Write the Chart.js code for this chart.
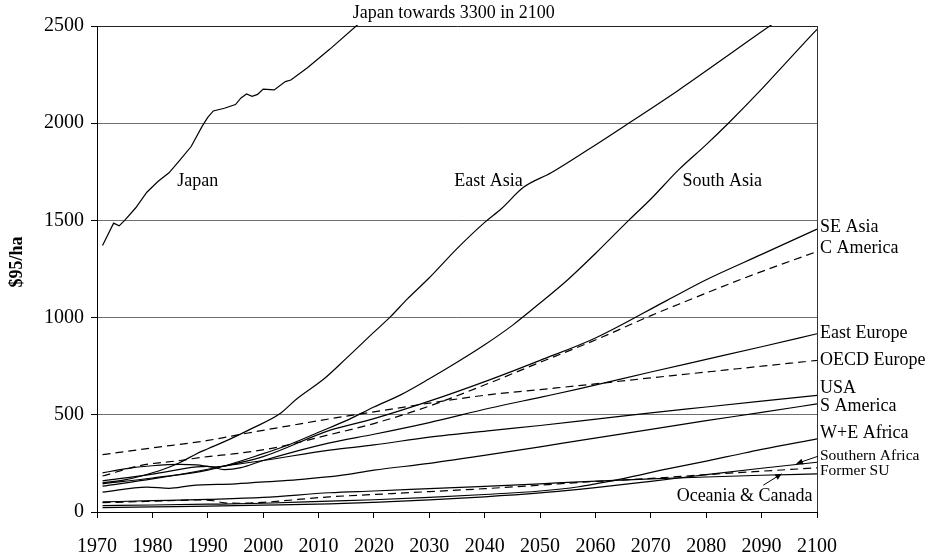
<!DOCTYPE html>
<html>
<head>
<meta charset="utf-8">
<script src="https://cdn.jsdelivr.net/npm/chart.js@4/dist/chart.umd.min.js"></script>
<style>
  html, body { margin: 0; padding: 0; background: #fff; }
  #wrap { width: 933px; height: 557px; }
</style>
</head>
<body>
<div id="wrap"><canvas id="c" width="933" height="557"></canvas></div>
<script>
// Agricultural land value per hectare ($95/ha), 1970-2100, by region.

const japanYears = [1971, 1973, 1974, 1975, 1977, 1979, 1981, 1983, 1985, 1987, 1989, 1990, 1991, 1993, 1995, 1996, 1997, 1998, 1999, 2000, 2002, 2004, 2005, 2008, 2012, 2017, 2030, 2050, 2075, 2100];
const japanValues = [1371, 1486, 1472, 1500, 1565, 1645, 1700, 1745, 1811, 1880, 1985, 2030, 2063, 2077, 2096, 2130, 2150, 2138, 2148, 2175, 2171, 2214, 2222, 2285, 2380, 2505, 2760, 3020, 3200, 3300];

const eastAsiaYears = [1971, 1975, 1978, 1982, 1985, 1988, 1990, 1994, 1998, 2003, 2006, 2011, 2015, 2020, 2023, 2026, 2030, 2035, 2040, 2043, 2047, 2052, 2059, 2066, 2075, 2085, 2092, 2100];
const eastAsiaValues = [150, 165, 185, 220, 255, 300, 325, 375, 430, 505, 580, 685, 790, 925, 1005, 1095, 1205, 1355, 1490, 1560, 1670, 1745, 1870, 2000, 2170, 2370, 2510, 2650];

const southAsiaYears = [1971, 1980, 1990, 2000, 2005, 2010, 2015, 2020, 2025, 2030, 2035, 2040, 2045, 2050, 2055, 2060, 2066, 2070, 2075, 2080, 2084, 2090, 2095, 2100];
const southAsiaValues = [145, 175, 215, 300, 350, 410, 470, 540, 605, 685, 770, 860, 960, 1075, 1195, 1330, 1500, 1610, 1760, 1890, 2000, 2175, 2330, 2483];

const seAsiaYears = [1971, 1980, 1990, 2000, 2012, 2020, 2030, 2041, 2050, 2060, 2073, 2080, 2090, 2100];
const seAsiaValues = [133, 170, 220, 285, 420, 480, 570, 681, 780, 895, 1090, 1195, 1325, 1455];

const cAmericaYears = [1971, 1978, 1985, 1990, 1995, 2002, 2012, 2020, 2030, 2041, 2050, 2060, 2070, 2076, 2087, 2100];
const cAmericaValues = [185, 240, 265, 285, 300, 330, 398, 455, 545, 665, 770, 885, 1010, 1080, 1205, 1340];

const eastEuropeYears = [1971, 1980, 1988, 1990, 1993, 1996, 2000, 2012, 2020, 2030, 2041, 2050, 2057, 2070, 2080, 2090, 2100];
const eastEuropeValues = [160, 195, 232, 235, 218, 228, 265, 356, 400, 460, 535, 590, 633, 720, 785, 850, 917];

const oecdEuropeYears = [1971, 1980, 1990, 1997, 2005, 2013, 2020, 2030, 2041, 2050, 2057, 2070, 2080, 2090, 2100];
const oecdEuropeValues = [295, 330, 368, 405, 445, 484, 515, 560, 604, 630, 650, 690, 720, 750, 780];

const usaYears = [1971, 1975, 1980, 1985, 1988, 1991, 1995, 2000, 2012, 2020, 2030, 2041, 2050, 2057, 2070, 2080, 2090, 2100];
const usaValues = [201, 222, 238, 245, 242, 232, 245, 265, 318, 345, 385, 419, 445, 467, 510, 540, 570, 600];

const sAmericaYears = [1971, 1979, 1983, 1987, 1995, 2002, 2007, 2014, 2020, 2030, 2039, 2050, 2057, 2070, 2080, 2090, 2100];
const sAmericaValues = [102, 128, 122, 136, 145, 158, 168, 188, 215, 250, 287, 335, 367, 425, 470, 512, 556];

const weAfricaYears = [1971, 1980, 1990, 2000, 2012, 2020, 2030, 2040, 2050, 2057, 2060, 2065, 2073, 2080, 2085, 2090, 2100];
const weAfricaValues = [33, 36, 40, 45, 56, 63, 75, 90, 108, 130, 145, 172, 222, 262, 292, 322, 376];

const southernAfricaYears = [1971, 1980, 1990, 2000, 2012, 2020, 2030, 2040, 2050, 2057, 2060, 2070, 2080, 2090, 2100];
const southernAfricaValues = [22, 26, 30, 35, 42, 50, 62, 78, 98, 116, 125, 158, 192, 225, 256];

const formerSUYears = [1971, 1980, 1989, 1991, 1993, 1996, 2000, 2012, 2020, 2030, 2040, 2050, 2057, 2069, 2080, 2090, 2100];
const formerSUValues = [48, 55, 62, 58, 47, 45, 50, 78, 90, 105, 120, 138, 152, 171, 192, 210, 227];

const oceaniaYears = [1971, 1980, 1990, 2000, 2012, 2020, 2030, 2040, 2050, 2057, 2070, 2080, 2090, 2100];
const oceaniaValues = [52, 58, 65, 75, 99, 108, 120, 132, 145, 155, 170, 180, 189, 196];

const xTickYears = [1970, 1980, 1990, 2000, 2010, 2020, 2030, 2040, 2050, 2060, 2070, 2080, 2090, 2100];
const yTickValues = [0, 500, 1000, 1500, 2000, 2500];

// name, years, values, dashed?
const series = [
  ['Japan', japanYears, japanValues, false],
  ['East Asia', eastAsiaYears, eastAsiaValues, false],
  ['South Asia', southAsiaYears, southAsiaValues, false],
  ['SE Asia', seAsiaYears, seAsiaValues, false],
  ['C America', cAmericaYears, cAmericaValues, true],
  ['East Europe', eastEuropeYears, eastEuropeValues, false],
  ['OECD Europe', oecdEuropeYears, oecdEuropeValues, true],
  ['USA', usaYears, usaValues, false],
  ['S America', sAmericaYears, sAmericaValues, false],
  ['W+E Africa', weAfricaYears, weAfricaValues, false],
  ['Southern Africa', southernAfricaYears, southernAfricaValues, false],
  ['Former SU', formerSUYears, formerSUValues, true],
  ['Oceania & Canada', oceaniaYears, oceaniaValues, false]
];

const SERIF = "'Liberation Serif', 'Times New Roman', serif";
Chart.defaults.font.family = SERIF;
Chart.defaults.color = '#000';

const datasets = series.map(([name, yrs, vals, dashed]) => ({
  label: name,
  data: yrs.map((yr, i) => ({ x: yr, y: vals[i] })),
  borderColor: '#000',
  borderWidth: 1.2,
  borderDash: dashed ? [8, 5] : [],
  pointRadius: 0,
  fill: false,
  tension: name === 'Japan' ? 0 : 0.4,
  cubicInterpolationMode: name === 'Japan' ? 'default' : 'monotone',
  clip: 1
}));

// text placed in data coordinates: [text, year, value, align, fontSize]
const notes = [
  ['Japan towards 3300 in 2100', 2034.4, 2565, 'center', 18],
  ['Japan', 1988.2, 1703, 'center', 18],
  ['East Asia', 2040.7, 1703, 'center', 18],
  ['South Asia', 2082.9, 1703, 'center', 18],
  ['SE Asia', 2100, 1463, 'left', 18],
  ['C America', 2100, 1358, 'left', 18],
  ['East Europe', 2100, 917, 'left', 18],
  ['OECD Europe', 2100, 780, 'left', 18],
  ['USA', 2100, 638, 'left', 18],
  ['S America', 2100, 544, 'left', 18],
  ['W+E Africa', 2100, 407, 'left', 18],
  ['Southern Africa', 2100, 287, 'left', 15.5],
  ['Former SU', 2100, 210, 'left', 15.5],
  ['Oceania & Canada', 2099.2, 81, 'right', 18]
];

// pointer arrows: from (year, value) to (year, value)
const pointers = [
  [2100.2, 287, 2096.3, 249],
  [2090.3, 138, 2093.6, 196]
];

const decorations = {
  id: 'decorations',
  afterDraw(chart) {
    const { ctx, chartArea: a, scales: { x, y } } = chart;
    ctx.save();
    // right edge of the plot frame
    ctx.strokeStyle = '#333';
    ctx.lineWidth = 1;
    ctx.beginPath();
    ctx.moveTo(Math.round(a.right) + 0.5, a.top);
    ctx.lineTo(Math.round(a.right) + 0.5, a.bottom);
    ctx.stroke();

    ctx.fillStyle = '#000';
    ctx.textBaseline = 'middle';
    notes.forEach(([t, yr, v, align, size]) => {
      ctx.font = size + 'px ' + SERIF;
      ctx.textAlign = align;
      let px = x.getPixelForValue(yr);
      if (align === 'left') px += 3;
      ctx.fillText(t, px, y.getPixelForValue(v));
    });

    ctx.strokeStyle = '#000';
    ctx.lineWidth = 1;
    pointers.forEach(([x0, v0, x1, v1]) => {
      const sx = x.getPixelForValue(x0), sy = y.getPixelForValue(v0);
      const ex = x.getPixelForValue(x1), ey = y.getPixelForValue(v1);
      const ang = Math.atan2(ey - sy, ex - sx);
      ctx.beginPath();
      ctx.moveTo(sx, sy);
      ctx.lineTo(ex, ey);
      ctx.stroke();
      const L = 7, W = 0.45;
      ctx.beginPath();
      ctx.moveTo(ex, ey);
      ctx.lineTo(ex - L * Math.cos(ang - W), ey - L * Math.sin(ang - W));
      ctx.lineTo(ex - L * Math.cos(ang + W), ey - L * Math.sin(ang + W));
      ctx.closePath();
      ctx.fill();
    });

    // axis title
    ctx.save();
    ctx.translate(17, 262);
    ctx.rotate(-Math.PI / 2);
    ctx.font = 'bold 18px ' + SERIF;
    ctx.textAlign = 'center';
    ctx.textBaseline = 'middle';
    ctx.fillText('$95/ha', 0, 0);
    ctx.restore();
    ctx.restore();
  }
};

new Chart(document.getElementById('c'), {
  type: 'line',
  data: { datasets },
  options: {
    responsive: false,
    animation: false,
    devicePixelRatio: 1,
    layout: { padding: { top: 26, right: 116, left: 0, bottom: 0 } },
    plugins: { legend: { display: false }, tooltip: { enabled: false } },
    scales: {
      x: {
        type: 'linear',
        min: xTickYears[0],
        max: xTickYears[xTickYears.length - 1],
        afterBuildTicks: s => { s.ticks = xTickYears.map(v => ({ value: v })); },
        afterFit: s => { s.height = 45; },
        ticks: {
          callback: v => String(v),
          font: { size: 20, family: SERIF },
          color: '#000',
          padding: 17,
          maxRotation: 0,
          autoSkip: false
        },
        grid: { drawOnChartArea: false, drawTicks: true, tickLength: 6, tickColor: '#000' },
        border: { color: '#000', width: 1 }
      },
      y: {
        min: yTickValues[0],
        max: yTickValues[yTickValues.length - 1],
        afterBuildTicks: s => { s.ticks = yTickValues.map(v => ({ value: v })); },
        afterFit: s => { s.width = 97; },
        ticks: {
          callback: v => String(v),
          font: { size: 20, family: SERIF },
          color: '#000',
          padding: 7
        },
        grid: {
          color: c => (c.tick && c.tick.value === 2500 ? '#222' : '#6e6e6e'),
          lineWidth: 1,
          tickLength: 6,
          tickColor: '#000'
        },
        border: { color: '#000', width: 1 }
      }
    }
  },
  plugins: [decorations]
});
</script>
</body>
</html>
